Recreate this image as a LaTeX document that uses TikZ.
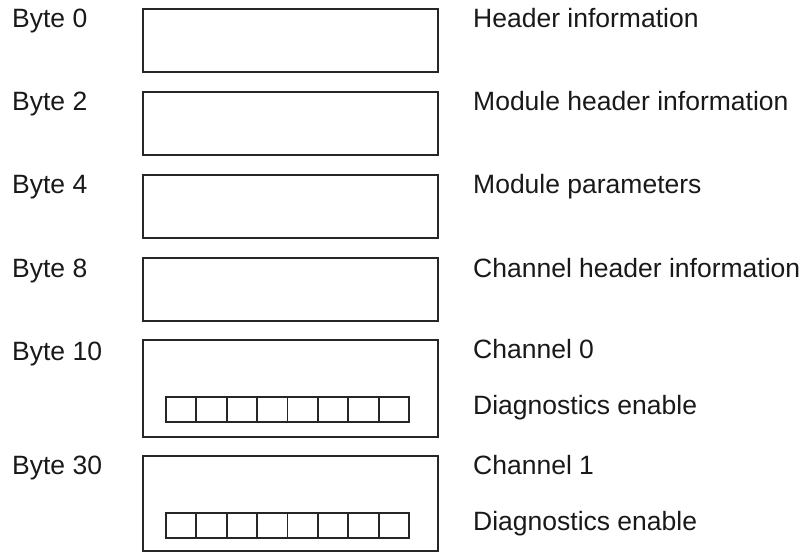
\documentclass[tikz,border=0pt]{standalone}
\usepackage{fontspec}
\setmainfont{Liberation Sans}
\begin{document}
\begin{tikzpicture}[x=1pt,y=-1pt,
  box/.style={draw=black!85,line width=1.7pt,rectangle,inner sep=0pt,anchor=north west,minimum width=295pt},
  cell/.style={draw=black!85,line width=1.7pt,rectangle,inner sep=0pt,anchor=north west,minimum width=30.4pt,minimum height=25pt},
  lbl/.style={anchor=base west,inner sep=0pt,font=\fontsize{26.5}{31}\selectfont,text=black!90}]
\useasboundingbox (0,0) rectangle (804,552);
% boxes
\node[box,minimum height=63pt] (b0) at (142,8) {};
\node[box,minimum height=63pt] (b2) at (142,91) {};
\node[box,minimum height=63pt] (b4) at (142,174) {};
\node[box,minimum height=63pt] (b8) at (142,257) {};
\node[box,minimum height=97pt] (b10) at (142,339) {};
\node[box,minimum height=95pt] (b30) at (142,455) {};
% cells
\foreach \i in {0,...,7}{
  \node[cell] (ca\i) at (165+\i*30.4,396) {};
  \node[cell] (cb\i) at (165+\i*30.4,512) {};
}
% left labels
\node[lbl] (l0) at (12,27) {Byte 0};
\node[lbl] (l2) at (12,110) {Byte 2};
\node[lbl] (l4) at (12,193) {Byte 4};
\node[lbl] (l8) at (12,277) {Byte 8};
\node[lbl] (l10) at (12,360) {Byte 10};
\node[lbl] (l30) at (12,474) {Byte 30};
% right labels
\node[lbl] (r0) at (473,27) {Header information};
\node[lbl] (r2) at (473,110) {Module header information};
\node[lbl] (r4) at (473,193) {Module parameters};
\node[lbl] (r8) at (473,277) {Channel header information};
\node[lbl] (r10) at (473,358) {Channel 0};
\node[lbl] (r10d) at (473,414) {Diagnostics enable};
\node[lbl] (r30) at (473,474) {Channel 1};
\node[lbl] (r30d) at (473,530) {Diagnostics enable};
\end{tikzpicture}
\end{document}
